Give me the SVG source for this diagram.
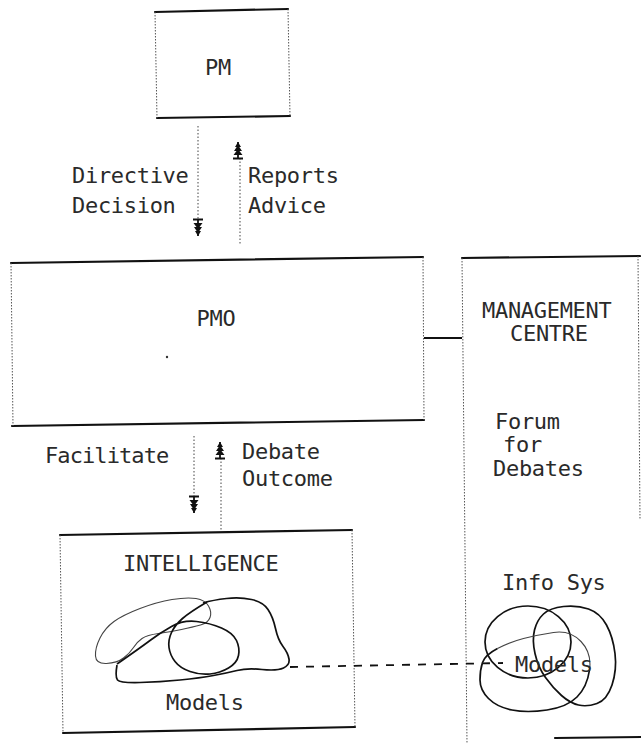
<svg xmlns="http://www.w3.org/2000/svg" width="641" height="743" viewBox="0 0 641 743">
<style>
.t{font-family:"DejaVu Sans Mono","Liberation Mono",monospace;font-size:22px;fill:#2a2a2a;letter-spacing:-0.3px}
.edge{stroke:#111;stroke-width:2.2;fill:none;stroke-linecap:round}
.side{stroke:#555;stroke-width:1;stroke-dasharray:1.5 1.5;fill:none}
.dotc{stroke:#444;stroke-width:1;stroke-dasharray:1.5 2;fill:none}
.solid{stroke:#111;stroke-width:1.8;fill:none}
.dash{stroke:#111;stroke-width:1.8;stroke-dasharray:8 8;fill:none}
.blob{fill:none;stroke:#111;stroke-width:1.7;stroke-linejoin:round}
.thin{fill:none;stroke:#444;stroke-width:1.1}
</style>
<defs>
<g id="up">
<path d="M0,0 L-3,5 L3,5 Z M0,3 L-4,9 L4,9 Z M0,7 L-4.5,13 L4.5,13 Z" fill="#111"/>
<path d="M-5,16.5 H5 M0,0 V17" stroke="#111" stroke-width="1.8" fill="none"/>
</g>
</defs>
<rect x="0" y="0" width="641" height="743" fill="#fff"/>

<g id="pm">
<path class="edge" d="M155,12 L288,9"/>
<path class="edge" d="M157,118 L290,116"/>
<path class="side" d="M155,12 L157,118"/>
<path class="side" d="M288,9 L290,116"/>
<text class="t" x="218" y="75" text-anchor="middle">PM</text>
</g>

<g id="pmo">
<path class="edge" d="M11,263 L423,257"/>
<path class="edge" d="M12,426 L424,420"/>
<path class="side" d="M11,263 L13,426"/>
<path class="side" d="M423,257 L424,420"/>
<text class="t" x="216" y="326" text-anchor="middle">PMO</text>
<circle cx="167" cy="357" r="1.2" fill="#333"/>
</g>

<g id="management-centre">
<path class="edge" d="M462,258 L640,256"/>
<path class="side" d="M462,258 L467,743"/>
<path class="side" d="M638,256 L640,520"/>
<path class="edge" d="M555,738 L641,737"/>
<text class="t" x="482" y="318">MANAGEMENT</text>
<text class="t" x="510" y="341">CENTRE</text>
<text class="t" x="495" y="429">Forum</text>
<text class="t" x="503" y="452">for</text>
<text class="t" x="493" y="476">Debates</text>
<text class="t" x="502" y="590">Info Sys</text>
<ellipse class="blob" cx="528" cy="642" rx="43" ry="36"/>
<path class="blob" d="M563.5,606.5 Q577,605 588.5,609 Q600,613 606.5,625 Q613,637 615,653.5 Q617,670 612,685 Q607,700 597,703.5 Q587,707 578.5,705 Q570,703 561.5,695.5 Q553,688 545.5,677.5 Q538,667 535,653.5 Q532,640 534.5,630 Q537,620 543.5,614 Q550,608 563.5,606.5 Z"/>
<path class="thin" d="M497.5,648.5 Q510,642 523.5,638.5 Q537,635 553.5,632.5 Q570,630 581,641.5 Q592,653 589.5,670"/>
<path class="blob" d="M589.5,670 Q587,687 577,697 Q567,707 547,710 Q527,713 512,710 Q497,707 488.5,698.5 Q480,690 480,680 Q480,670 482.5,662.5 Q485,655 497.5,648.5"/>
<text class="t" x="515" y="672">Models</text>
</g>

<g id="intelligence">
<path class="edge" d="M60,535 L352,530"/>
<path class="edge" d="M63,733 L355,727"/>
<path class="side" d="M60,535 L63,733"/>
<path class="side" d="M352,530 L355,727"/>
<text class="t" x="123" y="571">INTELLIGENCE</text>
<path class="thin" d="M106.5,663.5 Q96,664 95.5,656 Q95,648 100,638 Q105,628 114,621.5 Q123,615 140,608.5 Q157,602 172,599.5 Q187,597 196,598.5 Q205,600 208.5,606 Q212,612 210,617.5 Q208,623 200.5,625 Q193,627 181.5,629.5 Q170,632 158.5,633.5 Q147,635 142,638.5 Q137,642 133.5,647.5 Q130,653 123.5,658 Q117,663 106.5,663.5 Z"/>
<path class="blob" d="M117,664 Q140,648 150,640.5 Q160,633 171.5,626.5 Q183,620 196.5,621.5 Q210,623 221.5,628 Q233,633 236.5,640.5 Q240,648 238.5,655.5 Q237,663 228.5,668 Q220,673 210,674 Q200,675 190,671.5 Q180,668 175,661.5 Q170,655 169,647.5 Q168,640 171.5,632.5 Q175,625 182.5,618.5 Q190,612 207,602"/>
<path class="blob" d="M117,665 Q115,677 117.5,680 Q120,683 140,682.5 Q160,682 180,680 Q200,678 213.5,675.5 Q227,673 237,670.5 Q247,668 262,669.5 Q277,671 283.5,668 Q290,665 289,659 Q288,653 283,646.5 Q278,640 275.5,628.5 Q273,617 268,609.5 Q263,602 251.5,599.5 Q240,597 226.5,598.5 Q213,600 203,603"/>
<text class="t" x="166" y="710">Models</text>
</g>

<g id="connectors">
<path class="dotc" d="M198,126 L198,220"/>
<use href="#up" transform="translate(198,236) scale(1,-1)"/>
<path class="dotc" d="M240,158 L240,245"/>
<use href="#up" transform="translate(238,142)"/>
<path class="solid" d="M424,338 L462,338"/>
<path class="dotc" d="M194,436 L194,496"/>
<use href="#up" transform="translate(194,513) scale(1,-1)"/>
<path class="dotc" d="M221,458 L221,531"/>
<use href="#up" transform="translate(220,442)"/>
<path class="dash" d="M290,667 L503,663"/>
</g>

<g id="labels">
<text class="t" x="72" y="183">Directive</text>
<text class="t" x="72" y="213">Decision</text>
<text class="t" x="248" y="183">Reports</text>
<text class="t" x="248" y="213">Advice</text>
<text class="t" x="45" y="463" textLength="124" lengthAdjust="spacing">Facilitate</text>
<text class="t" x="242" y="459">Debate</text>
<text class="t" x="242" y="486">Outcome</text>
</g>
</svg>
